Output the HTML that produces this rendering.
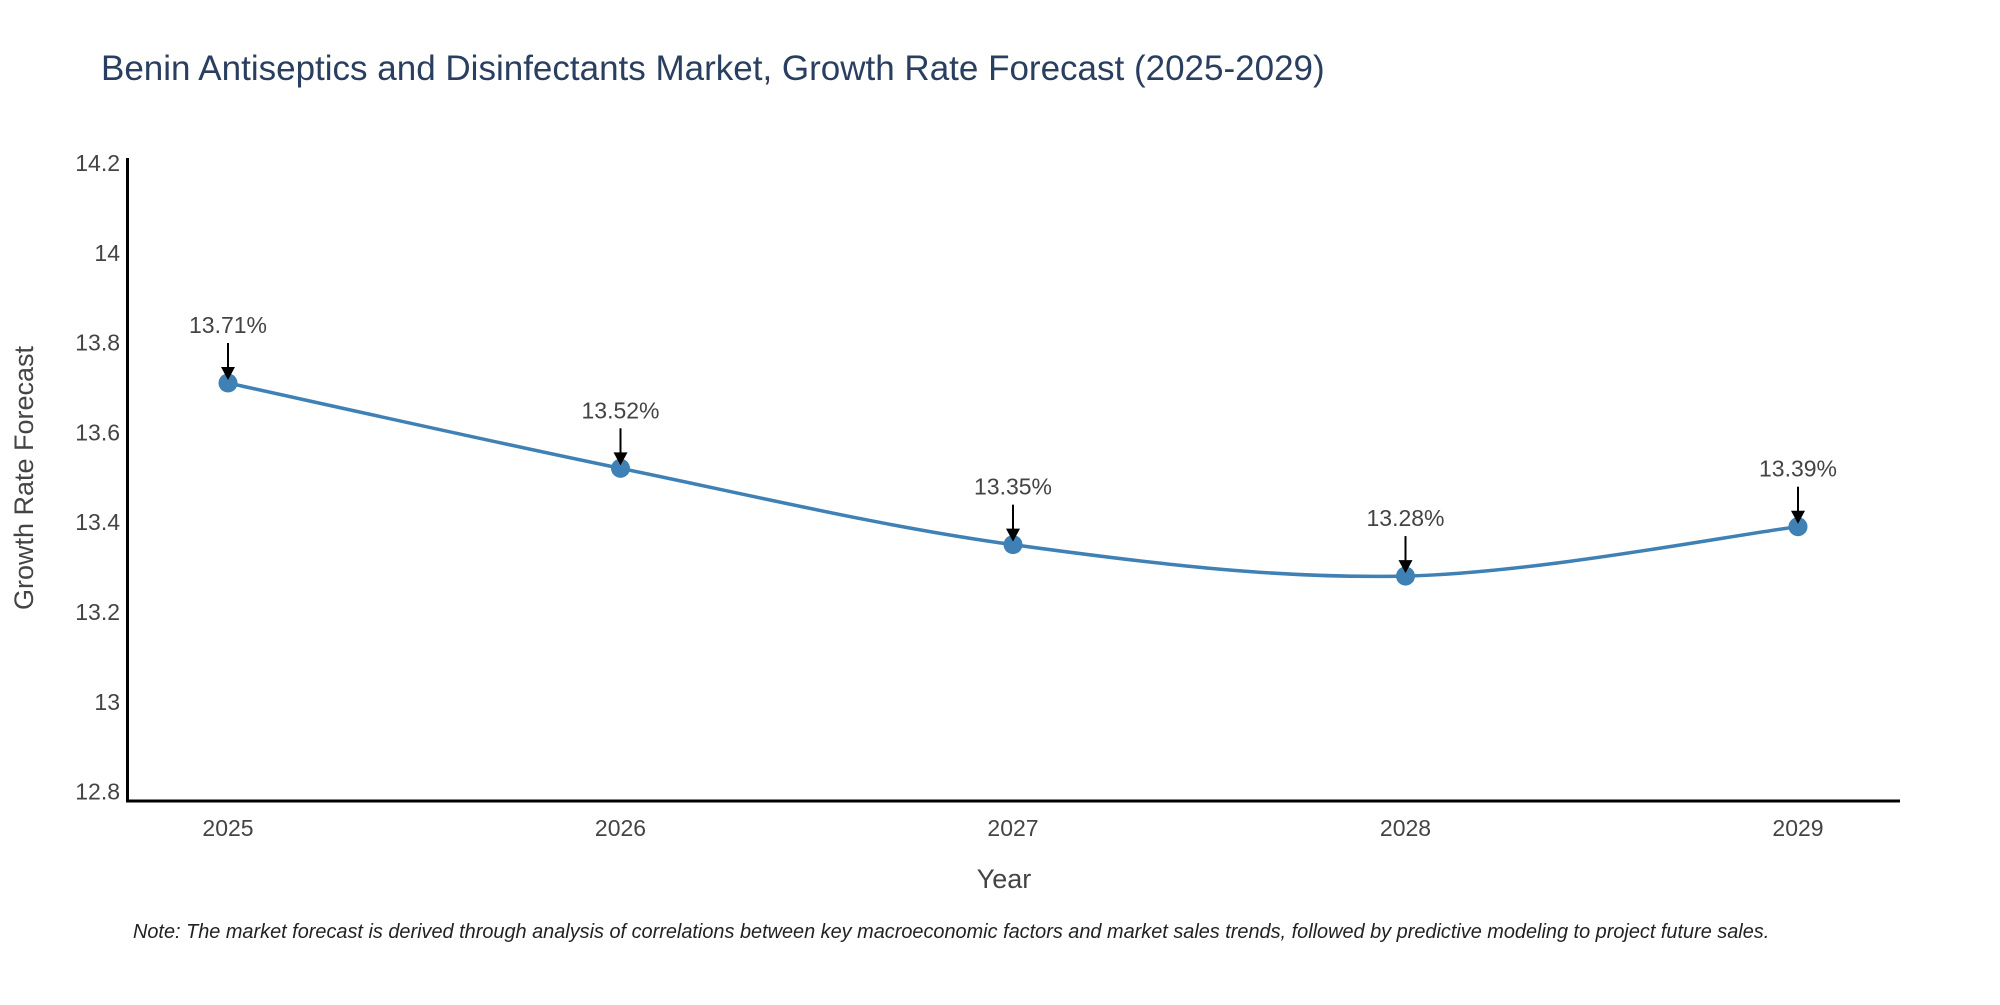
<!DOCTYPE html>
<html><head><meta charset="utf-8"><style>
body{margin:0;background:#fff;}
svg text{font-family:"Liberation Sans",sans-serif;}
</style></head><body>
<svg width="2000" height="1000" xmlns="http://www.w3.org/2000/svg">
<text x="101" y="80" font-size="35" fill="#2a3f5f">Benin Antiseptics and Disinfectants Market, Growth Rate Forecast (2025-2029)</text>
<g id="yticks"></g><g id="xticks"></g>
<line x1="127.5" y1="158" x2="127.5" y2="802" stroke="#000" stroke-width="3"/>
<line x1="126" y1="801" x2="1900" y2="801" stroke="#000" stroke-width="3"/>
<path id="line" fill="none" stroke="#3f80b5" stroke-width="3.5"/>
<g id="marks"></g>
<text x="1004" y="888" font-size="27" fill="#444" text-anchor="middle">Year</text>
<text transform="translate(33,478) rotate(-90)" font-size="27" fill="#444" text-anchor="middle">Growth Rate Forecast</text>
<text x="133" y="938" font-size="19.9" fill="#222" font-style="italic">Note: The market forecast is derived through analysis of correlations between key macroeconomic factors and market sales trends, followed by predictive modeling to project future sales.</text>
</svg>
<script>
const years=["2025","2026","2027","2028","2029"];
const values=[13.71,13.52,13.35,13.28,13.39];
const labels=["13.71%","13.52%","13.35%","13.28%","13.39%"];
const yTicks=[12.8,13,13.2,13.4,13.6,13.8,14,14.2];
const yTickLabels=["12.8","13","13.2","13.4","13.6","13.8","14","14.2"];
const NS="http://www.w3.org/2000/svg";
function X(i){return 228+i*392.5;}
function Y(v){return 163+(14.2-v)/0.2*89.8;}
function mk(t,a,p){const e=document.createElementNS(NS,t);for(const k in a)e.setAttribute(k,a[k]);p.appendChild(e);return e;}
const yt=document.getElementById('yticks');
yTicks.forEach((v,i)=>{const t=mk('text',{x:120,y:Y(v)+8,'font-size':23,fill:'#444','text-anchor':'end'},yt);t.textContent=yTickLabels[i];

});
const xt=document.getElementById('xticks');
years.forEach((y,i)=>{const t=mk('text',{x:X(i),y:836,'font-size':23,fill:'#444','text-anchor':'middle'},xt);t.textContent=y;

});
const P=values.map((v,i)=>[X(i),Y(v)]);
let d='M'+P[0][0]+','+P[0][1];
for(let i=0;i<P.length-1;i++){const p0=P[Math.max(0,i-1)],p1=P[i],p2=P[i+1],p3=P[Math.min(P.length-1,i+2)];const s=6;
d+=' C'+(p1[0]+(p2[0]-p0[0])/s)+','+(p1[1]+(p2[1]-p0[1])/s)+' '+(p2[0]-(p3[0]-p1[0])/s)+','+(p2[1]-(p3[1]-p1[1])/s)+' '+p2[0]+','+p2[1];}
document.getElementById('line').setAttribute('d',d);
const g=document.getElementById('marks');
P.forEach((p,i)=>{const c=mk('circle',{cx:p[0],cy:p[1],r:9.5,fill:'#3f80b5'},g);


const l=mk('line',{x1:p[0],y1:p[1]-40,x2:p[0],y2:p[1]-12,stroke:'#000','stroke-width':2},g);


const a=mk('polygon',{points:(p[0]-7)+','+(p[1]-16)+' '+(p[0]+7)+','+(p[1]-16)+' '+p[0]+','+(p[1]-3),fill:'#000'},g);


const t=mk('text',{x:p[0],y:p[1]-50,'font-size':23,fill:'#444','text-anchor':'middle'},g);t.textContent=labels[i];

});
</script>
</body></html>
